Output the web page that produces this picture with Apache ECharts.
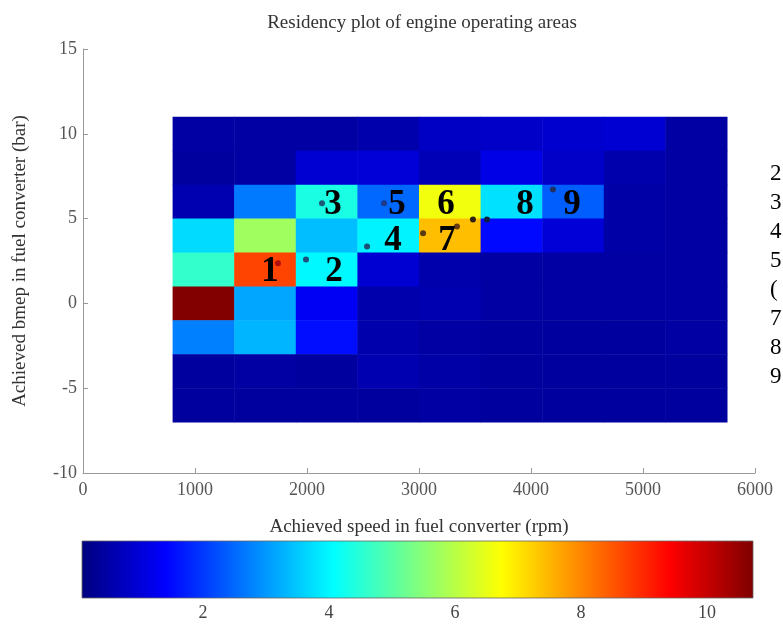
<!DOCTYPE html>
<html>
<head>
<meta charset="utf-8">
<script src="https://cdn.jsdelivr.net/npm/echarts@6.0.0/dist/echarts.min.js"></script>
<style>html,body{margin:0;padding:0;background:#fff;}#c{width:783px;height:630px;}</style>
</head>
<body>
<div id="c"></div>
<script>
// ---- data ----
const speedEdges = [800, 1350, 1900, 2450, 3000, 3550, 4100, 4650, 5200, 5750];
const bmepEdges = [11, 9, 7, 5, 3, 1, -1, -3, -5, -7]; // top to bottom
// residency values, rows from top (9..11 bar) to bottom (-7..-5 bar)
const row1 = [0.45, 0.45, 0.45, 0.55, 0.8, 0.85, 0.9, 0.95, 0.45];
const row2 = [0.4, 0.45, 0.95, 1.0, 0.65, 1.15, 0.85, 0.55, 0.45];
const row3 = [0.6, 2.7, 4.35, 2.5, 6.6, 3.75, 2.4, 0.5, 0.45];
const row4 = [3.7, 5.75, 3.4, 3.95, 7.4, 1.5, 1.0, 0.5, 0.45];
const row5 = [4.6, 8.7, 4.0, 0.95, 0.55, 0.45, 0.45, 0.45, 0.45];
const row6 = [10.7, 3.15, 1.3, 0.55, 0.6, 0.45, 0.45, 0.45, 0.45];
const row7 = [2.75, 3.3, 1.55, 0.55, 0.45, 0.4, 0.4, 0.4, 0.45];
const row8 = [0.4, 0.45, 0.4, 0.6, 0.5, 0.4, 0.4, 0.4, 0.4];
const row9 = [0.4, 0.4, 0.4, 0.4, 0.45, 0.4, 0.4, 0.4, 0.4];
const residencyRows = [row1, row2, row3, row4, row5, row6, row7, row8, row9];

const pointLabels = ['1', '2', '3', '4', '5', '6', '7', '8', '9'];
const labelSpeed = [1670, 2241, 2232, 2768, 2804, 3241, 3250, 3946, 4366];
const labelBmep = [1.83, 1.83, 5.78, 3.71, 5.78, 5.78, 3.71, 5.78, 5.78];

const dotSpeed = [1741, 1991, 2134, 2688, 2536, 3036, 3339, 3482, 3607, 4196];
const dotBmep = [2.36, 2.59, 5.9, 5.9, 3.36, 4.13, 4.54, 4.95, 4.95, 6.72];
const dotColors = ['#b01010', '#1d4f7a', '#1d5a78', '#1d3a8a', '#1d4f70', '#5a3a10', '#6a3a10', '#302010', '#102040', '#203060'];

const xTicks = [0, 1000, 2000, 3000, 4000, 5000, 6000];
const yTicks = [-10, -5, 0, 5, 10, 15];
const colorbarTicks = [2, 4, 6, 8, 10];
const colorMin = 0.08, colorMax = 10.73;
const sideChars = ['2', '3', '4', '5', '(', '7', '8', '9'];

// ---- build ----
const jet = ['#00007F', '#0000FF', '#007FFF', '#00FFFF', '#7FFF7F', '#FFFF00', '#FF7F00', '#FF0000', '#7F0000'];
const cells = [];
residencyRows.forEach((row, r) => {
  row.forEach((v, c) => {
    cells.push([speedEdges[c], speedEdges[c + 1], bmepEdges[r + 1], bmepEdges[r], v]);
  });
});
const labelData = pointLabels.map((n, i) => ({ name: n, value: [labelSpeed[i], labelBmep[i]] }));
const dotData = dotSpeed.map((s, i) => ({ value: [s, dotBmep[i]], itemStyle: { color: dotColors[i] } }));

const font = 'Liberation Serif';
const chart = echarts.init(document.getElementById('c'));
const sideGraphics = sideChars.map((ch, i) => ({
  type: 'text', left: 770, top: 162 + i * 29,
  style: { text: ch, font: '23px "Liberation Serif"', fill: '#000' }
}));

chart.setOption({
  backgroundColor: '#fff',
  animation: false,
  title: {
    text: 'Residency plot of engine operating areas',
    left: 417, textAlign: 'center', top: 9,
    textStyle: { fontFamily: font, fontSize: 19, fontWeight: 'normal', color: '#333' }
  },
  grid: [
    { left: 83, top: 49, width: 672, height: 424 },
    { left: 82, top: 541, width: 671, height: 57 }
  ],
  xAxis: [
    {
      type: 'value', gridIndex: 0, min: 0, max: 6000, interval: 1000,
      name: 'Achieved speed in fuel converter (rpm)', nameLocation: 'middle', nameGap: 45,
      nameTextStyle: { fontFamily: font, fontSize: 19, color: '#333' },
      axisLine: { show: true, onZero: false, lineStyle: { color: '#999' } },
      axisTick: { show: true, inside: true, length: 5, lineStyle: { color: '#999' } },
      axisLabel: { fontFamily: font, fontSize: 18, color: '#555', margin: 8, formatter: v => String(v) },
      splitLine: { show: false }
    },
    {
      type: 'value', gridIndex: 1, min: colorMin, max: colorMax,
      axisLine: { show: false },
      axisTick: { show: true, inside: true, length: 57, customValues: colorbarTicks, lineStyle: { color: 'rgba(0,0,0,0.25)' } },
      axisLabel: { customValues: colorbarTicks, fontFamily: font, fontSize: 18, color: '#444', margin: 6 },
      splitLine: { show: false }
    }
  ],
  yAxis: [
    {
      type: 'value', gridIndex: 0, min: -10, max: 15, interval: 5,
      name: 'Achieved bmep in fuel converter (bar)', nameLocation: 'middle', nameGap: 53,
      nameTextStyle: { fontFamily: font, fontSize: 19, color: '#333' },
      axisLine: { show: true, onZero: false, lineStyle: { color: '#999' } },
      axisTick: { show: true, inside: true, length: 5, lineStyle: { color: '#999' } },
      axisLabel: { fontFamily: font, fontSize: 18, color: '#555', margin: 6, formatter: v => String(v) },
      splitLine: { show: false }
    },
    { type: 'value', gridIndex: 1, min: 0, max: 1, show: false }
  ],
  visualMap: {
    show: false, type: 'continuous', min: colorMin, max: colorMax,
    dimension: 4, seriesIndex: 0, inRange: { color: jet }
  },
  graphic: sideGraphics,
  series: [
    {
      type: 'custom', xAxisIndex: 0, yAxisIndex: 0,
      encode: { x: [0, 1], y: [2, 3] },
      data: cells,
      renderItem: function (params, api) {
        const p0 = api.coord([api.value(0), api.value(3)]);
        const p1 = api.coord([api.value(1), api.value(2)]);
        return {
          type: 'rect',
          shape: { x: p0[0], y: p0[1], width: p1[0] - p0[0] + 0.5, height: p1[1] - p0[1] + 0.5 },
          style: { fill: api.visual('color') }
        };
      }
    },
    {
      type: 'scatter', xAxisIndex: 0, yAxisIndex: 0, symbolSize: 6, z: 3,
      itemStyle: { opacity: 1 },
      data: dotData
    },
    {
      type: 'scatter', xAxisIndex: 0, yAxisIndex: 0, symbolSize: 1, z: 4,
      itemStyle: { color: 'rgba(0,0,0,0)', opacity: 1 },
      label: {
        show: true, position: 'inside', formatter: '{b}',
        fontFamily: font, fontSize: 35, fontWeight: 'bold', color: '#000'
      },
      data: labelData
    },
    {
      type: 'custom', xAxisIndex: 1, yAxisIndex: 1,
      data: [[colorMin, colorMax]],
      encode: { x: [0, 1] },
      renderItem: function (params, api) {
        const a = api.coord([api.value(0), 1]);
        const b = api.coord([api.value(1), 0]);
        const stops = jet.map((c, i) => ({ offset: i / (jet.length - 1), color: c }));
        return {
          type: 'rect', z2: -1,
          shape: { x: a[0], y: a[1], width: b[0] - a[0], height: b[1] - a[1] },
          style: { fill: new echarts.graphic.LinearGradient(0, 0, 1, 0, stops), stroke: '#666', lineWidth: 0.8 }
        };
      }
    }
  ]
});
</script>
</body>
</html>
